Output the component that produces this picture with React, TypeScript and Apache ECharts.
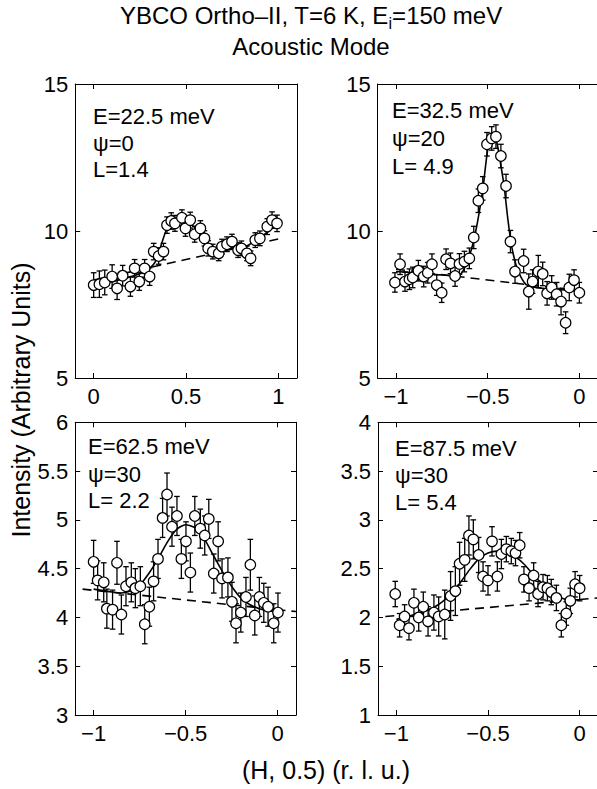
import React, { useEffect, useRef } from 'react';
import * as echarts from 'echarts';

const FONT = '"Liberation Sans", Arial, Helvetica, sans-serif';

// ---------- Panel 1: E=22.5 meV ----------
const x1 = [0.0, 0.031, 0.06, 0.10, 0.127, 0.157, 0.199, 0.222, 0.247, 0.276, 0.303, 0.325, 0.352, 0.378, 0.397, 0.42, 0.44, 0.478, 0.497, 0.523, 0.547, 0.578, 0.60, 0.62, 0.645, 0.677, 0.695, 0.722, 0.749, 0.782, 0.80, 0.83, 0.85, 0.875, 0.9, 0.94, 0.966, 0.993];
const v1 = [8.16, 8.19, 8.25, 8.45, 8.05, 8.48, 8.11, 8.73, 8.28, 8.73, 8.45, 9.30, 9.15, 9.30, 10.2, 10.34, 10.26, 10.45, 10.09, 10.37, 9.89, 10.09, 9.75, 9.41, 9.30, 9.24, 9.47, 9.55, 9.64, 9.35, 9.41, 9.24, 9.07, 9.69, 9.75, 10.15, 10.37, 10.26];
const e1 = [0.42, 0.45, 0.42, 0.4, 0.38, 0.35, 0.33, 0.3, 0.3, 0.3, 0.3, 0.28, 0.28, 0.28, 0.28, 0.28, 0.27, 0.27, 0.27, 0.27, 0.27, 0.26, 0.26, 0.26, 0.25, 0.25, 0.25, 0.25, 0.25, 0.25, 0.25, 0.25, 0.25, 0.25, 0.25, 0.27, 0.28, 0.28];
const fit1X = [0, 0.136, 0.28, 0.334, 0.406, 0.478, 0.533, 0.605, 0.65, 0.731, 0.821, 0.894, 0.966, 1.0];
const fit1Y = [8.16, 8.33, 8.62, 8.96, 10.2, 10.43, 10.2, 9.75, 9.35, 9.41, 9.47, 9.75, 10.09, 10.32];
const bg1X = [0, 1];
const bg1Y = [8.33, 9.73];

// ---------- Panel 2: E=32.5 meV ----------
const x2 = [-1.006, -0.978, -0.951, -0.927, -0.909, -0.878, -0.849, -0.827, -0.804, -0.778, -0.751, -0.727, -0.703, -0.678, -0.654, -0.627, -0.60, -0.576, -0.551, -0.527, -0.504, -0.478, -0.455, -0.428, -0.40, -0.376, -0.351, -0.304, -0.276, -0.255, -0.224, -0.20, -0.176, -0.151, -0.124, -0.10, -0.075, -0.055, -0.029, 0.0];
const v2 = [8.25, 8.87, 8.28, 8.36, 8.42, 8.65, 8.45, 8.58, 8.87, 8.16, 7.90, 9.04, 8.90, 8.47, 8.88, 8.96, 9.07, 9.78, 11.03, 11.45, 12.95, 13.15, 13.21, 12.55, 11.53, 9.64, 8.62, 8.98, 7.94, 8.28, 8.62, 8.54, 7.88, 8.08, 7.85, 7.60, 6.88, 8.08, 8.33, 7.90];
const e2 = [0.33, 0.35, 0.33, 0.35, 0.35, 0.35, 0.35, 0.35, 0.35, 0.35, 0.33, 0.35, 0.35, 0.35, 0.35, 0.35, 0.35, 0.38, 0.4, 0.4, 0.4, 0.4, 0.4, 0.4, 0.4, 0.38, 0.4, 0.4, 0.6, 0.4, 0.55, 0.4, 0.4, 0.4, 0.4, 0.45, 0.37, 0.45, 0.35, 0.35];
const fit2X = [-1, -0.9, -0.8, -0.7, -0.66, -0.63, -0.6, -0.565, -0.527, -0.5, -0.473, -0.45, -0.43, -0.41, -0.39, -0.37, -0.345, -0.32, -0.29, -0.25, -0.2, -0.1, 0];
const fit2Y = [8.62, 8.58, 8.53, 8.48, 8.46, 8.7, 9.13, 10.0, 11.4, 12.76, 13.3, 13.0, 12.3, 11.5, 10.4, 9.5, 8.84, 8.45, 8.18, 8.1, 8.05, 8.0, 7.95];
const bg2X = [-1, 0];
const bg2Y = [8.7, 7.97];

// ---------- Panel 3: E=62.5 meV ----------
const x3 = [-1.0, -0.978, -0.945, -0.928, -0.897, -0.873, -0.849, -0.824, -0.795, -0.773, -0.746, -0.722, -0.697, -0.674, -0.65, -0.625, -0.601, -0.574, -0.547, -0.523, -0.498, -0.474, -0.45, -0.42, -0.396, -0.374, -0.347, -0.323, -0.302, -0.27, -0.248, -0.226, -0.20, -0.172, -0.148, -0.124, -0.099, -0.075, -0.052, -0.021, 0.002];
const v3 = [4.57, 4.38, 4.36, 4.09, 4.08, 4.56, 4.03, 4.32, 4.36, 4.30, 4.32, 3.93, 4.11, 4.37, 4.60, 5.02, 5.26, 4.93, 5.04, 4.60, 4.78, 4.46, 5.04, 4.91, 4.84, 5.01, 4.45, 4.78, 4.40, 4.41, 4.16, 3.94, 4.05, 4.21, 4.54, 4.02, 4.21, 4.15, 4.11, 3.94, 4.05];
const e3 = [0.22, 0.2, 0.2, 0.2, 0.2, 0.22, 0.2, 0.2, 0.2, 0.2, 0.2, 0.2, 0.2, 0.2, 0.2, 0.2, 0.22, 0.2, 0.2, 0.2, 0.2, 0.2, 0.2, 0.2, 0.2, 0.2, 0.2, 0.2, 0.2, 0.2, 0.2, 0.2, 0.2, 0.2, 0.26, 0.2, 0.2, 0.2, 0.2, 0.2, 0.2];
const fit3X = [-1, -0.9, -0.85, -0.8, -0.75, -0.7, -0.65, -0.6, -0.55, -0.5, -0.45, -0.4, -0.35, -0.3, -0.25, -0.2, -0.15, -0.1, -0.05, 0];
const fit3Y = [4.29, 4.26, 4.25, 4.27, 4.33, 4.45, 4.6, 4.77, 4.9, 4.95, 4.92, 4.81, 4.64, 4.47, 4.32, 4.2, 4.13, 4.09, 4.07, 4.06];
const bg3X = [-1.06, 0.1];
const bg3Y = [4.29, 4.06];

// ---------- Panel 4: E=87.5 meV ----------
const x4 = [-1.006, -0.982, -0.955, -0.931, -0.904, -0.878, -0.853, -0.827, -0.795, -0.769, -0.736, -0.704, -0.678, -0.655, -0.627, -0.604, -0.58, -0.551, -0.527, -0.50, -0.478, -0.449, -0.427, -0.40, -0.373, -0.35, -0.327, -0.304, -0.276, -0.251, -0.227, -0.20, -0.176, -0.155, -0.127, -0.10, -0.073, -0.051, -0.025, 0.0];
const v4 = [2.24, 1.92, 2.01, 1.89, 2.15, 2.00, 2.11, 1.96, 2.05, 2.01, 2.03, 2.22, 2.27, 2.55, 2.59, 2.84, 2.80, 2.64, 2.42, 2.38, 2.78, 2.42, 2.65, 2.70, 2.68, 2.66, 2.74, 2.39, 2.30, 2.43, 2.24, 2.31, 2.30, 2.26, 2.20, 1.92, 2.04, 2.17, 2.34, 2.30];
const e4 = [0.13, 0.12, 0.12, 0.12, 0.14, 0.14, 0.15, 0.15, 0.18, 0.2, 0.25, 0.25, 0.25, 0.22, 0.22, 0.2, 0.2, 0.18, 0.15, 0.15, 0.15, 0.15, 0.15, 0.13, 0.13, 0.13, 0.13, 0.13, 0.13, 0.13, 0.13, 0.13, 0.13, 0.13, 0.13, 0.12, 0.12, 0.13, 0.13, 0.13];
const fit4X = [-1, -0.9, -0.8, -0.75, -0.7, -0.65, -0.6, -0.55, -0.5, -0.45, -0.4, -0.35, -0.3, -0.25, -0.2, -0.15, -0.1, -0.05, 0];
const fit4Y = [1.98, 2.03, 2.1, 2.16, 2.24, 2.36, 2.49, 2.6, 2.66, 2.68, 2.67, 2.62, 2.54, 2.43, 2.34, 2.26, 2.2, 2.18, 2.18];
const bg4X = [-1.06, 0.1];
const bg4Y = [2.01, 2.2];

// ---------- ticks & texts ----------
const xTicksPos = [0, 0.5, 1];
const xTicksNeg = [-1, -0.5, 0];
const yTicksTop = [5, 10, 15];
const yTicksBL = [3, 3.5, 4, 4.5, 5, 5.5, 6];
const yTicksBR = [1, 1.5, 2, 2.5, 3, 3.5, 4];
const notes = [
  ['E=22.5 meV', 'ψ=0', 'L=1.4'],
  ['E=32.5 meV', 'ψ=20', 'L= 4.9'],
  ['E=62.5 meV', 'ψ=30', 'L= 2.2'],
  ['E=87.5 meV', 'ψ=30', 'L= 5.4'],
];

const panels = [
  { grid: { left: 75.2, top: 84, width: 221.6, height: 294 }, xr: [-0.1, 1.1], yr: [5, 15], xt: xTicksPos, yt: yTicksTop, x: x1, v: v1, e: e1, fx: fit1X, fy: fit1Y, bx: bg1X, by: bg1Y, note: { x: 93, y: [116, 143, 169] } },
  { grid: { left: 377.7, top: 84, width: 220, height: 294 }, xr: [-1.1, 0.1], yr: [5, 15], xt: xTicksNeg, yt: yTicksTop, x: x2, v: v2, e: e2, fx: fit2X, fy: fit2Y, bx: bg2X, by: bg2Y, note: { x: 392, y: [110, 138, 166] } },
  { grid: { left: 75.2, top: 422.3, width: 220.8, height: 292.7 }, xr: [-1.1, 0.1], yr: [3, 6], xt: xTicksNeg, yt: yTicksBL, x: x3, v: v3, e: e3, fx: fit3X, fy: fit3Y, bx: bg3X, by: bg3Y, note: { x: 88, y: [446, 474, 500] } },
  { grid: { left: 378, top: 422.3, width: 220, height: 292.7 }, xr: [-1.1, 0.1], yr: [1, 4], xt: xTicksNeg, yt: yTicksBR, x: x4, v: v4, e: e4, fx: fit4X, fy: fit4Y, bx: bg4X, by: bg4Y, note: { x: 395, y: [448, 475, 502] } },
];

function fmt(v: number): string {
  if (Math.abs(v) < 1e-9) return '0';
  const s = String(Math.round(v * 100) / 100);
  return s.replace('-', '\u2212');
}

function axis(g: number, min: number, max: number, ticks: number[], labels: boolean, position: string) {
  return {
    type: 'value',
    gridIndex: g,
    position,
    min,
    max,
    axisLine: { show: true, onZero: false, lineStyle: { color: '#000', width: 1 } },
    axisTick: { show: true, inside: true, length: 5, customValues: ticks, lineStyle: { color: '#000', width: 1 } },
    axisLabel: {
      show: labels,
      customValues: ticks,
      formatter: (val: number) => fmt(val),
      color: '#000',
      fontSize: 22,
      fontFamily: FONT,
      margin: 7,
    },
    splitLine: { show: false },
  };
}

export default function App() {
  const ref = useRef<HTMLDivElement>(null);

  useEffect(() => {
    if (!ref.current) return;
    const chart = echarts.init(ref.current, null, { renderer: 'svg' });

    const grids: any[] = [];
    const xAxes: any[] = [];
    const yAxes: any[] = [];
    const series: any[] = [];
    const graphics: any[] = [];

    panels.forEach((p, g) => {
      grids.push({ ...p.grid, containLabel: false, outerBoundsMode: 'none' });
      xAxes.push(axis(g, p.xr[0], p.xr[1], p.xt, true, 'bottom'));
      xAxes.push(axis(g, p.xr[0], p.xr[1], p.xt, false, 'top'));
      yAxes.push(axis(g, p.yr[0], p.yr[1], p.yt, true, 'left'));
      yAxes.push(axis(g, p.yr[0], p.yr[1], p.yt, false, 'right'));
      const xi = 2 * g;
      const yi = 2 * g;
      series.push({
        type: 'line',
        xAxisIndex: xi,
        yAxisIndex: yi,
        data: p.bx.map((x, i) => [x, p.by[i]]),
        showSymbol: false,
        symbol: 'none',
        lineStyle: { color: '#000', width: 1.6, type: [9, 6] },
        z: 1,
        silent: true,
      });
      series.push({
        type: 'line',
        xAxisIndex: xi,
        yAxisIndex: yi,
        data: p.fx.map((x, i) => [x, p.fy[i]]),
        showSymbol: false,
        symbol: 'none',
        smooth: 0.25,
        lineStyle: { color: '#000', width: 1.6 },
        z: 2,
        silent: true,
      });
      series.push({
        type: 'custom',
        xAxisIndex: xi,
        yAxisIndex: yi,
        encode: { x: 0, y: [1, 2] },
        data: p.x.map((x, i) => [x, p.v[i] - p.e[i], p.v[i] + p.e[i]]),
        renderItem: (params: any, api: any) => {
          const x = api.value(0);
          const a = api.coord([x, api.value(1)]);
          const b = api.coord([x, api.value(2)]);
          const cw = 2.8;
          const st = { stroke: '#000', lineWidth: 1.3 };
          return {
            type: 'group',
            children: [
              { type: 'line', shape: { x1: a[0], y1: a[1], x2: b[0], y2: b[1] }, style: st },
              { type: 'line', shape: { x1: a[0] - cw, y1: a[1], x2: a[0] + cw, y2: a[1] }, style: st },
              { type: 'line', shape: { x1: b[0] - cw, y1: b[1], x2: b[0] + cw, y2: b[1] }, style: st },
            ],
          };
        },
        z: 3,
        silent: true,
      });
      series.push({
        type: 'scatter',
        xAxisIndex: xi,
        yAxisIndex: yi,
        data: p.x.map((x, i) => [x, p.v[i]]),
        symbol: 'circle',
        symbolSize: 10.5,
        itemStyle: { color: '#fff', borderColor: '#000', borderWidth: 1.2, opacity: 1 },
        z: 4,
        silent: true,
      });
      notes[g].forEach((t, k) => {
        graphics.push({
          type: 'text',
          x: p.note.x,
          y: p.note.y[k],
          style: { text: t, fontSize: 22, fontFamily: FONT, fill: '#000', align: 'left', verticalAlign: 'middle' },
          z: 10,
        });
      });
    });

    graphics.push({
      type: 'text',
      x: 311,
      y: 15,
      style: {
        text: '{a|YBCO Ortho–II, T=6 K, E}{s|i}{a|=150 meV}',
        align: 'center',
        verticalAlign: 'middle',
        fill: '#000',
        rich: {
          a: { fontSize: 24, fontFamily: FONT, fill: '#000' },
          s: { fontSize: 16, fontFamily: FONT, fill: '#000', padding: [17, 0, 0, 0] },
        },
      },
    });
    graphics.push({
      type: 'text',
      x: 311,
      y: 46,
      style: { text: 'Acoustic Mode', fontSize: 24, fontFamily: FONT, fill: '#000', align: 'center', verticalAlign: 'middle' },
    });
    graphics.push({
      type: 'text',
      x: 21,
      y: 400,
      rotation: Math.PI / 2,
      style: { text: 'Intensity (Arbitrary Units)', fontSize: 25, fontFamily: FONT, fill: '#000', align: 'center', verticalAlign: 'middle' },
    });
    graphics.push({
      type: 'text',
      x: 326,
      y: 770,
      style: { text: '(H, 0.5) (r. l. u.)', fontSize: 25, fontFamily: FONT, fill: '#000', align: 'center', verticalAlign: 'middle' },
    });

    chart.setOption({
      animation: false,
      backgroundColor: '#fff',
      grid: grids,
      xAxis: xAxes,
      yAxis: yAxes,
      series,
      graphic: graphics,
    });

    return () => chart.dispose();
  }, []);

  return <div ref={ref} style={{ position: 'fixed', left: 0, top: 0, width: 597, height: 789, background: '#fff' }} />;
}
